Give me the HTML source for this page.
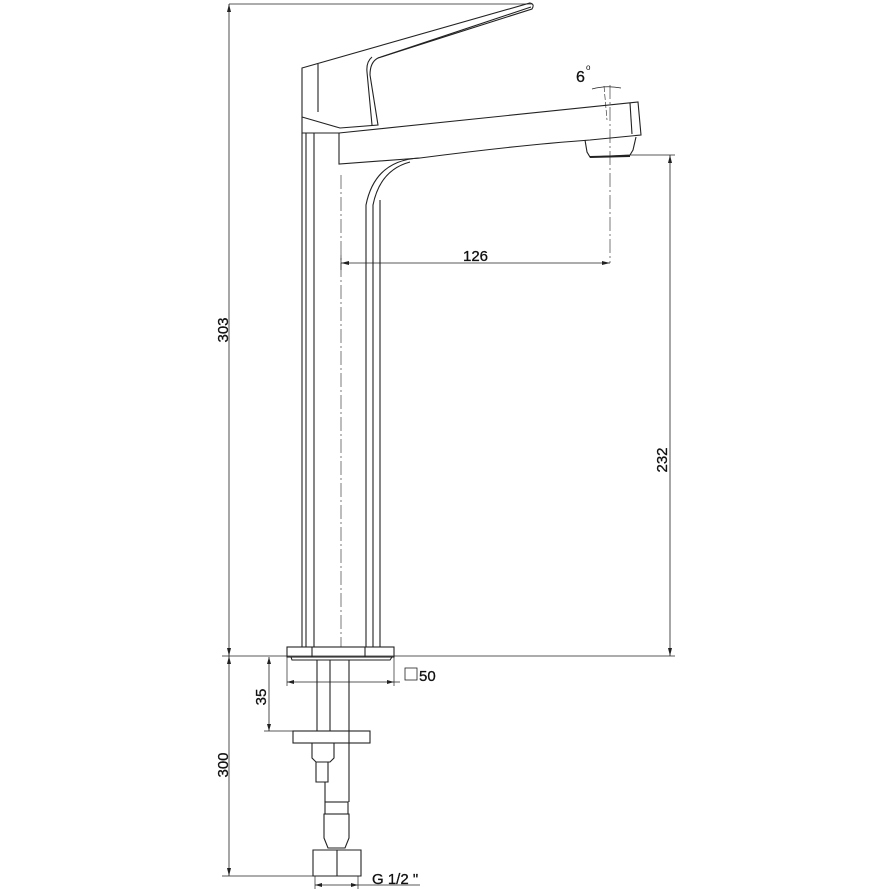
<!DOCTYPE html>
<html><head><style>html,body{margin:0;padding:0;background:#fff}svg{display:block}</style></head>
<body>
<svg width="889" height="889" viewBox="0 0 889 889" xmlns="http://www.w3.org/2000/svg" font-family="Liberation Sans, sans-serif">
<g fill="none" stroke="#222" stroke-width="1.1">
<line x1="229" y1="4" x2="532" y2="4" stroke-width="0.7"/>
<line x1="229" y1="4" x2="229" y2="876" stroke-width="0.8"/>
<line x1="222" y1="656" x2="675" y2="656" stroke-width="0.7"/>
<line x1="222" y1="876" x2="318" y2="876" stroke-width="0.7"/>
<path d="M302,68 L530,3 Q535,4 532,9 L378,58 Q370,62 370,75 L378,125 L340,128 L302,117 Z"/>
<path d="M318,64 L318,112 M372,57 Q366,62 367,72 L372,125 M378,58 L531,7"/>
<path d="M302,117 L302,133 L340,133"/>
<path d="M339,133 L638,102 L641,135 L590,140 Q520,145 420,158 L339,164 Z"/>
<line x1="630" y1="103" x2="632" y2="134"/>
<path d="M585,140 L587,152 L590,157 L630,155 L633,150 L636,137"/>
<line x1="590" y1="157" x2="630" y2="156" stroke-width="2"/>
<line x1="302" y1="133" x2="302" y2="647"/>
<line x1="306" y1="133" x2="306" y2="647"/>
<line x1="314" y1="133" x2="314" y2="647"/>
<path d="M420,158 Q375,160 366,205 L366,647"/>
<path d="M410,162 Q380,170 373,205 L373,647"/>
<line x1="380" y1="200" x2="380" y2="647"/>
<line x1="341" y1="175" x2="341" y2="647" stroke-dasharray="14,3,2,3" stroke-width="0.6"/>
<rect x="287" y="647" width="107" height="10"/>
<line x1="312" y1="647" x2="312" y2="657"/><line x1="365" y1="647" x2="365" y2="657"/>
<path d="M291,657 L292,660 L390,660 L392,657"/>
<line x1="317" y1="660" x2="317" y2="731"/>
<line x1="330" y1="660" x2="330" y2="731"/>
<line x1="349" y1="660" x2="349" y2="802"/>
<rect x="293" y="731" width="77" height="12"/>
<path d="M312,743 L334,743 L334,758 L330,762 L316,762 L312,758 Z"/>
<path d="M316,762 L316,782 L328,782 L328,762"/>
<line x1="325" y1="782" x2="325" y2="802"/>
<rect x="325" y="802" width="23" height="12"/>
<path d="M324,814 L349,814 L349,838 L345,848 L328,848 L324,838 Z"/>
<path d="M313,850 L361,850 L361,876 L313,876 Z M337,850 L337,876"/>
<line x1="287" y1="657" x2="287" y2="686" stroke-width="0.7"/>
<line x1="394" y1="657" x2="394" y2="686" stroke-width="0.7"/>
<line x1="287" y1="682" x2="400" y2="682" stroke-width="0.7"/>
<rect x="405" y="668" width="12" height="12" stroke-width="0.8"/>
<line x1="264" y1="731" x2="293" y2="731" stroke-width="0.7"/>
<line x1="269" y1="657" x2="269" y2="731" stroke-width="0.8"/>
<line x1="315" y1="876" x2="315" y2="889" stroke-width="0.7"/>
<line x1="358" y1="876" x2="358" y2="889" stroke-width="0.7"/>
<line x1="315" y1="885" x2="420" y2="885" stroke-width="0.7"/>
<line x1="610" y1="85" x2="610" y2="263" stroke-dasharray="14,3,2,3" stroke-width="0.6"/>
<line x1="341" y1="263" x2="610" y2="263" stroke-width="0.8"/>
<line x1="341" y1="255" x2="341" y2="270" stroke-width="0.7"/>
<line x1="630" y1="155" x2="675" y2="155" stroke-width="0.7"/>
<line x1="670" y1="155" x2="670" y2="656" stroke-width="0.8"/>
<path d="M592,89 Q606,85 621,88" stroke-width="0.7"/>
<line x1="604" y1="86" x2="607" y2="120" stroke-dasharray="6,2" stroke-width="0.6"/>
</g>
<g fill="#222">
<path d="M229,4 l-2,8 l4,0 Z M229,656 l-2,-8 l4,0 Z M229,656 l-2,8 l4,0 Z M229,876 l-2,-8 l4,0 Z"/>
<path d="M269,657 l-2,7 l4,0 Z M269,731 l-2,-7 l4,0 Z"/>
<path d="M670,155 l-2,8 l4,0 Z M670,656 l-2,-8 l4,0 Z"/>
<path d="M341,263 l8,-2 l0,4 Z M610,263 l-8,-2 l0,4 Z"/>
<path d="M287,682 l7,-2 l0,4 Z M394,682 l-7,-2 l0,4 Z"/>
<path d="M315,885 l7,-2 l0,4 Z M358,885 l-7,-2 l0,4 Z"/>
</g>
<g font-size="15" fill="#111" stroke="#111" stroke-width="0.3">
<text x="463" y="261">126</text>
<text x="419" y="681">50</text>
<text x="372" y="884">G 1/2 "</text>
<text x="576" y="82" font-size="16">6</text>
<text x="586" y="70" font-size="8" stroke-width="0">o</text>
<text transform="translate(228,330) rotate(-90)" text-anchor="middle">303</text>
<text transform="translate(228,765) rotate(-90)" text-anchor="middle">300</text>
<text transform="translate(266,697) rotate(-90)" text-anchor="middle">35</text>
<text transform="translate(667,460) rotate(-90)" text-anchor="middle">232</text>
</g>
</svg>
</body></html>
